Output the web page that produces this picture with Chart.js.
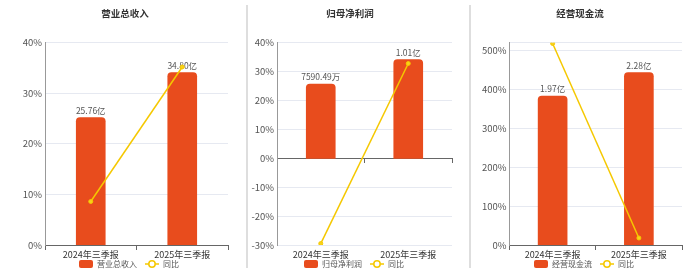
<!DOCTYPE html>
<html lang="zh-CN">
<head>
<meta charset="utf-8">
<title>营业总收入 / 归母净利润 / 经营现金流</title>
<script src="https://cdn.jsdelivr.net/npm/chart.js@4.4.1/dist/chart.umd.min.js"></script>
<style>
  html, body { margin: 0; padding: 0; background: #fff; }
  body { position: relative; width: 700px; height: 272px; overflow: hidden; }
  canvas { position: absolute; top: 0; }
  .sep { position: absolute; top: 5px; width: 2px; height: 263px; background: #dedede; }
</style>
</head>
<body>
<canvas id="revenue" width="210" height="272" style="left:22px"></canvas>
<canvas id="profit" width="208" height="272" style="left:248px"></canvas>
<canvas id="cash" width="208" height="272" style="left:478px"></canvas>
<div class="sep" style="left:246px"></div>
<div class="sep" style="left:469px"></div>
<script>
// data
const categories = ['2024年三季报', '2025年三季报'];

// 营业总收入 (亿)
const revenueValues = [25.76, 34.80];
const revenueLabels = ['25.76亿', '34.80亿'];
const revenueYoY = [8.6, 35.2];
const revenueTicks = [0, 10, 20, 30, 40];

// 归母净利润 (亿)
const profitValues = [0.759049, 1.01];
const profitLabels = ['7590.49万', '1.01亿'];
const profitYoY = [-29.5, 32.8];
const profitTicks = [-30, -20, -10, 0, 10, 20, 30, 40];

// 经营现金流 (亿)
const cashValues = [1.97, 2.28];
const cashLabels = ['1.97亿', '2.28亿'];
const cashYoY = [518, 18];
const cashTicks = [0, 100, 200, 300, 400, 500];

const BAR_COLOR = '#e84c1d';
const LINE_COLOR = '#f5c800';
const FONT = '"Noto Sans CJK SC", "Noto Sans", sans-serif';

Chart.defaults.font.family = FONT;

// legend icons
function makeBarIcon() {
  const c = document.createElement('canvas');
  c.width = 22; c.height = 10;
  const g = c.getContext('2d');
  g.fillStyle = BAR_COLOR;
  g.beginPath();
  g.roundRect(8, 1, 14, 8, 2);
  g.fill();
  return c;
}

function makeLineIcon() {
  const c = document.createElement('canvas');
  c.width = 22; c.height = 10;
  const g = c.getContext('2d');
  g.strokeStyle = LINE_COLOR;
  g.lineWidth = 1.5;
  g.beginPath();
  g.moveTo(8, 5); g.lineTo(22, 5);
  g.stroke();
  g.fillStyle = '#fff';
  g.beginPath();
  g.arc(15, 5, 3.2, 0, Math.PI * 2);
  g.fill();
  g.stroke();
  return c;
}

const barIcon = makeBarIcon();
const lineIcon = makeLineIcon();

// value text above bars, drawn before the line
const barValueLabels = {
  id: 'barValueLabels',
  afterDatasetDraw(chart, args, opts) {
    if (args.index !== 0) return;
    const ctx = chart.ctx;
    ctx.save();
    ctx.font = `8.5px ${FONT}`;
    ctx.fillStyle = '#555';
    ctx.textAlign = 'center';
    ctx.textBaseline = 'middle';
    args.meta.data.forEach((bar, i) => {
      ctx.fillText(opts.labels[i], bar.x, bar.y - 7);
    });
    ctx.restore();
  }
};

const panels = [
  { id: 'revenue', title: '营业总收入', values: revenueValues, labels: revenueLabels, yoy: revenueYoY,
    ticks: revenueTicks, yMin: 0, yMax: 40, barMax: 40.86, axisWidth: 23 },
  { id: 'profit', title: '归母净利润', values: profitValues, labels: profitLabels, yoy: profitYoY,
    ticks: profitTicks, yMin: -30, yMax: 40, barMax: 1.183, axisWidth: 29 },
  { id: 'cash', title: '经营现金流', values: cashValues, labels: cashLabels, yoy: cashYoY,
    ticks: cashTicks, yMin: 0, yMax: 520, barMax: 2.677, axisWidth: 31.5 }
];

function drawPanel(p) {
  const ctx = document.getElementById(p.id).getContext('2d');
  new Chart(ctx, {
    type: 'bar',
    data: {
      labels: categories,
      datasets: [
        {
          type: 'bar',
          label: p.title,
          data: p.values,
          backgroundColor: BAR_COLOR,
          borderRadius: 4,
          barThickness: 29,
          xAxisID: 'x',
          yAxisID: 'yBar',
          order: 1
        },
        {
          type: 'line',
          label: '同比',
          data: p.yoy,
          borderColor: LINE_COLOR,
          borderWidth: 1.5,
          pointRadius: 2,
          pointHoverRadius: 2,
          pointBackgroundColor: '#f8d21a',
          pointBorderColor: LINE_COLOR,
          pointBorderWidth: 1,
          tension: 0,
          xAxisID: 'x',
          yAxisID: 'y',
          order: 0
        }
      ]
    },
    options: {
      responsive: false,
      animation: false,
      layout: { padding: { left: 0, right: 4, top: 0, bottom: 0 }, autoPadding: false },
      plugins: {
        title: {
          display: true,
          text: p.title,
          color: '#333',
          font: { size: 9.5, weight: 'bold' },
          padding: { top: 8, bottom: 23.3 }
        },
        legend: {
          position: 'bottom',
          maxHeight: 12,
          labels: {
            usePointStyle: true,
            pointStyleWidth: 22,
            padding: 0,
            font: { size: 8 },
            generateLabels: chart => chart.data.datasets.map((ds, i) => ({
              text: ds.label,
              pointStyle: i === 0 ? barIcon : lineIcon,
              fontColor: '#555',
              fillStyle: 'transparent',
              strokeStyle: 'transparent',
              lineWidth: 0,
              hidden: false,
              datasetIndex: i
            }))
          }
        },
        tooltip: { enabled: false },
        barValueLabels: { labels: p.labels }
      },
      scales: {
        x: {
          type: 'category',
          axis: 'x',
          position: { y: 0 },
          offset: true,
          border: { color: '#666', width: 1 },
          grid: { drawOnChartArea: false, drawTicks: true, tickLength: 4, tickColor: '#666', offset: true },
          ticks: { display: false }
        },
        x2: {
          type: 'category',
          axis: 'x',
          position: 'bottom',
          offset: true,
          border: { display: false },
          grid: { display: false, drawTicks: false },
          ticks: { color: '#333', font: { size: 9 }, padding: 4, maxRotation: 0, autoSkip: false },
          afterFit: scale => {
            scale.height = 15;
            scale.paddingLeft = 0;
            scale.paddingRight = 0;
          }
        },
        y: {
          type: 'linear',
          position: 'left',
          min: p.yMin,
          max: p.yMax,
          afterBuildTicks: scale => {
            const vals = p.ticks.includes(p.yMax) ? p.ticks : p.ticks.concat([p.yMax]);
            scale.ticks = vals.map(v => ({ value: v }));
          },
          afterFit: scale => { scale.width = p.axisWidth; },
          border: { color: '#999', width: 1 },
          grid: { color: '#e6e9f1', drawTicks: false },
          ticks: {
            color: '#555',
            font: { size: 9.5 },
            padding: 3,
            callback: v => p.ticks.includes(v) ? v + '%' : ''
          }
        },
        yBar: {
          type: 'linear',
          display: false,
          min: p.barMax * p.yMin / p.yMax,
          max: p.barMax
        }
      }
    },
    plugins: [barValueLabels]
  });
}

panels.forEach(drawPanel);
</script>
</body>
</html>
